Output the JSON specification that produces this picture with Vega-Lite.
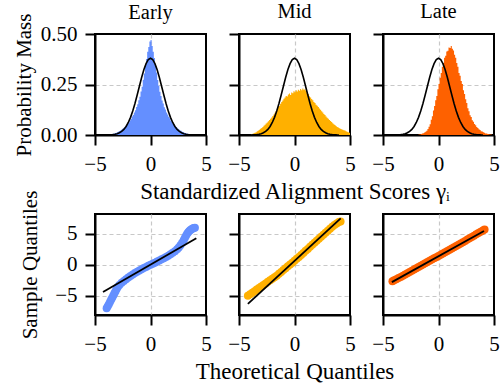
{
  "$schema": "https://vega.github.io/schema/vega-lite/v6.json",
  "autosize": {"type": "pad"},
  "padding": {"left": 12, "top": 0, "right": 0, "bottom": 0},
  "config": {
    "font": "Liberation Serif",
    "view": {"stroke": "black", "strokeWidth": 2},
    "axis": {
      "domainColor": "black", "domainWidth": 2,
      "tickColor": "black", "tickWidth": 2, "tickSize": 10,
      "labelFontSize": 21, "labelColor": "black", "labelPadding": 8,
      "labelFlush": false, "labelOverlap": false,
      "titleFontSize": 21, "titleFontWeight": "normal", "titleColor": "black", "titlePadding": 6,
      "gridColor": "#c8c8c8", "gridDash": [4, 3], "gridWidth": 1.2
    },
    "axisX": {"titleFontSize": 23, "gridOpacity": {"condition": {"test": "abs(datum.value) > 4.9", "value": 0}, "value": 1}},
    "title": {"fontSize": 20.5, "fontWeight": "normal", "color": "black", "offset": 11}
  },
  "datasets": {
    "pdf": [
      {"x": -4.0, "y": 0.0003}, {"x": -3.8, "y": 0.0005}, {"x": -3.6, "y": 0.0011}, {"x": -3.4, "y": 0.002}, {"x": -3.2, "y": 0.0037},
      {"x": -3.0, "y": 0.0064}, {"x": -2.8, "y": 0.0109}, {"x": -2.6, "y": 0.0177}, {"x": -2.4, "y": 0.0279}, {"x": -2.2, "y": 0.0423},
      {"x": -2.0, "y": 0.0619}, {"x": -1.8, "y": 0.0874}, {"x": -1.6, "y": 0.119}, {"x": -1.4, "y": 0.1562}, {"x": -1.2, "y": 0.1978},
      {"x": -1.0, "y": 0.2415}, {"x": -0.8, "y": 0.2843}, {"x": -0.6, "y": 0.3227}, {"x": -0.4, "y": 0.3534}, {"x": -0.2, "y": 0.3732},
      {"x": 0.0, "y": 0.38},
      {"x": 0.2, "y": 0.3732}, {"x": 0.4, "y": 0.3534}, {"x": 0.6, "y": 0.3227}, {"x": 0.8, "y": 0.2843}, {"x": 1.0, "y": 0.2415},
      {"x": 1.2, "y": 0.1978}, {"x": 1.4, "y": 0.1562}, {"x": 1.6, "y": 0.119}, {"x": 1.8, "y": 0.0874}, {"x": 2.0, "y": 0.0619},
      {"x": 2.2, "y": 0.0423}, {"x": 2.4, "y": 0.0279}, {"x": 2.6, "y": 0.0177}, {"x": 2.8, "y": 0.0109}, {"x": 3.0, "y": 0.0064},
      {"x": 3.2, "y": 0.0037}, {"x": 3.4, "y": 0.002}, {"x": 3.6, "y": 0.0011}, {"x": 3.8, "y": 0.0005}, {"x": 4.0, "y": 0.0003}
    ],
    "hE": [
      {"x": -3.6, "y": 0.004}, {"x": -3.5, "y": 0.005}, {"x": -3.4, "y": 0.006}, {"x": -3.3, "y": 0.008}, {"x": -3.2, "y": 0.010},
      {"x": -3.1, "y": 0.011}, {"x": -3.0, "y": 0.015}, {"x": -2.9, "y": 0.017}, {"x": -2.8, "y": 0.020}, {"x": -2.7, "y": 0.025},
      {"x": -2.6, "y": 0.028}, {"x": -2.5, "y": 0.033}, {"x": -2.4, "y": 0.037}, {"x": -2.3, "y": 0.044}, {"x": -2.2, "y": 0.049},
      {"x": -2.1, "y": 0.056}, {"x": -2.0, "y": 0.061}, {"x": -1.9, "y": 0.072}, {"x": -1.8, "y": 0.079}, {"x": -1.7, "y": 0.091},
      {"x": -1.6, "y": 0.099}, {"x": -1.5, "y": 0.112}, {"x": -1.4, "y": 0.123}, {"x": -1.3, "y": 0.138}, {"x": -1.2, "y": 0.152},
      {"x": -1.1, "y": 0.172}, {"x": -1.0, "y": 0.189}, {"x": -0.9, "y": 0.215}, {"x": -0.8, "y": 0.239}, {"x": -0.7, "y": 0.273},
      {"x": -0.6, "y": 0.305}, {"x": -0.5, "y": 0.343}, {"x": -0.4, "y": 0.376}, {"x": -0.3, "y": 0.412}, {"x": -0.2, "y": 0.436},
      {"x": -0.1, "y": 0.463}, {"x": 0.0, "y": 0.470}, {"x": 0.1, "y": 0.441}, {"x": 0.2, "y": 0.412}, {"x": 0.3, "y": 0.381},
      {"x": 0.4, "y": 0.343}, {"x": 0.5, "y": 0.309}, {"x": 0.6, "y": 0.272}, {"x": 0.7, "y": 0.244}, {"x": 0.8, "y": 0.214},
      {"x": 0.9, "y": 0.193}, {"x": 1.0, "y": 0.171}, {"x": 1.1, "y": 0.156}, {"x": 1.2, "y": 0.137}, {"x": 1.3, "y": 0.126},
      {"x": 1.4, "y": 0.111}, {"x": 1.5, "y": 0.102}, {"x": 1.6, "y": 0.090}, {"x": 1.7, "y": 0.083}, {"x": 1.8, "y": 0.071},
      {"x": 1.9, "y": 0.065}, {"x": 2.0, "y": 0.055}, {"x": 2.1, "y": 0.051}, {"x": 2.2, "y": 0.043}, {"x": 2.3, "y": 0.039},
      {"x": 2.4, "y": 0.032}, {"x": 2.5, "y": 0.029}, {"x": 2.6, "y": 0.023}, {"x": 2.7, "y": 0.021}, {"x": 2.8, "y": 0.016},
      {"x": 2.9, "y": 0.015}, {"x": 3.0, "y": 0.011}, {"x": 3.1, "y": 0.010}, {"x": 3.2, "y": 0.008}, {"x": 3.3, "y": 0.006},
      {"x": 3.4, "y": 0.005}, {"x": 3.5, "y": 0.003}, {"x": 3.6, "y": 0.0}
    ],
    "hM": [
      {"x": -3.9, "y": 0.004}, {"x": -3.8, "y": 0.006}, {"x": -3.7, "y": 0.009}, {"x": -3.6, "y": 0.011}, {"x": -3.5, "y": 0.014},
      {"x": -3.4, "y": 0.018}, {"x": -3.3, "y": 0.022}, {"x": -3.2, "y": 0.026}, {"x": -3.1, "y": 0.031}, {"x": -3.0, "y": 0.035},
      {"x": -2.9, "y": 0.040}, {"x": -2.8, "y": 0.046}, {"x": -2.7, "y": 0.051}, {"x": -2.6, "y": 0.057}, {"x": -2.5, "y": 0.062},
      {"x": -2.4, "y": 0.068}, {"x": -2.3, "y": 0.074}, {"x": -2.2, "y": 0.080}, {"x": -2.1, "y": 0.087}, {"x": -2.0, "y": 0.094},
      {"x": -1.9, "y": 0.101}, {"x": -1.8, "y": 0.110}, {"x": -1.7, "y": 0.119}, {"x": -1.6, "y": 0.128}, {"x": -1.5, "y": 0.139},
      {"x": -1.4, "y": 0.143}, {"x": -1.3, "y": 0.155}, {"x": -1.2, "y": 0.163}, {"x": -1.1, "y": 0.171}, {"x": -1.0, "y": 0.180},
      {"x": -0.9, "y": 0.186}, {"x": -0.8, "y": 0.193}, {"x": -0.7, "y": 0.190}, {"x": -0.6, "y": 0.201}, {"x": -0.5, "y": 0.205},
      {"x": -0.4, "y": 0.198}, {"x": -0.3, "y": 0.211}, {"x": -0.2, "y": 0.207}, {"x": -0.1, "y": 0.216}, {"x": 0.0, "y": 0.212},
      {"x": 0.1, "y": 0.222}, {"x": 0.2, "y": 0.215}, {"x": 0.3, "y": 0.224}, {"x": 0.4, "y": 0.219}, {"x": 0.5, "y": 0.228},
      {"x": 0.6, "y": 0.221}, {"x": 0.7, "y": 0.230}, {"x": 0.8, "y": 0.224}, {"x": 0.9, "y": 0.226}, {"x": 1.0, "y": 0.218},
      {"x": 1.1, "y": 0.209}, {"x": 1.2, "y": 0.203}, {"x": 1.3, "y": 0.192}, {"x": 1.4, "y": 0.186}, {"x": 1.5, "y": 0.178},
      {"x": 1.6, "y": 0.172}, {"x": 1.7, "y": 0.163}, {"x": 1.8, "y": 0.158}, {"x": 1.9, "y": 0.150}, {"x": 2.0, "y": 0.145},
      {"x": 2.1, "y": 0.138}, {"x": 2.2, "y": 0.131}, {"x": 2.3, "y": 0.125}, {"x": 2.4, "y": 0.117}, {"x": 2.5, "y": 0.112},
      {"x": 2.6, "y": 0.104}, {"x": 2.7, "y": 0.099}, {"x": 2.8, "y": 0.092}, {"x": 2.9, "y": 0.086}, {"x": 3.0, "y": 0.080},
      {"x": 3.1, "y": 0.074}, {"x": 3.2, "y": 0.069}, {"x": 3.3, "y": 0.064}, {"x": 3.4, "y": 0.058}, {"x": 3.5, "y": 0.053},
      {"x": 3.6, "y": 0.049}, {"x": 3.7, "y": 0.044}, {"x": 3.8, "y": 0.040}, {"x": 3.9, "y": 0.037}, {"x": 4.0, "y": 0.034},
      {"x": 4.1, "y": 0.031}, {"x": 4.2, "y": 0.028}, {"x": 4.3, "y": 0.026}, {"x": 4.4, "y": 0.024}, {"x": 4.5, "y": 0.022},
      {"x": 4.6, "y": 0.019}, {"x": 4.7, "y": 0.016}, {"x": 4.8, "y": 0.013}, {"x": 4.9, "y": 0.011}, {"x": 5.0, "y": 0.0}
    ],
    "hL": [
      {"x": -1.8, "y": 0.002}, {"x": -1.7, "y": 0.003}, {"x": -1.6, "y": 0.005}, {"x": -1.5, "y": 0.007}, {"x": -1.4, "y": 0.009},
      {"x": -1.3, "y": 0.012}, {"x": -1.2, "y": 0.016}, {"x": -1.1, "y": 0.021}, {"x": -1.0, "y": 0.030}, {"x": -0.9, "y": 0.041},
      {"x": -0.8, "y": 0.053}, {"x": -0.7, "y": 0.076}, {"x": -0.6, "y": 0.093}, {"x": -0.5, "y": 0.121}, {"x": -0.4, "y": 0.143},
      {"x": -0.3, "y": 0.172}, {"x": -0.2, "y": 0.193}, {"x": -0.1, "y": 0.227}, {"x": 0.0, "y": 0.253}, {"x": 0.1, "y": 0.283},
      {"x": 0.2, "y": 0.307}, {"x": 0.3, "y": 0.338}, {"x": 0.4, "y": 0.357}, {"x": 0.5, "y": 0.383}, {"x": 0.6, "y": 0.392},
      {"x": 0.7, "y": 0.413}, {"x": 0.8, "y": 0.417}, {"x": 0.9, "y": 0.433}, {"x": 1.0, "y": 0.431}, {"x": 1.1, "y": 0.440},
      {"x": 1.2, "y": 0.427}, {"x": 1.3, "y": 0.418}, {"x": 1.4, "y": 0.397}, {"x": 1.5, "y": 0.383}, {"x": 1.6, "y": 0.357},
      {"x": 1.7, "y": 0.338}, {"x": 1.8, "y": 0.307}, {"x": 1.9, "y": 0.293}, {"x": 2.0, "y": 0.267}, {"x": 2.1, "y": 0.252},
      {"x": 2.2, "y": 0.222}, {"x": 2.3, "y": 0.203}, {"x": 2.4, "y": 0.177}, {"x": 2.5, "y": 0.158}, {"x": 2.6, "y": 0.132},
      {"x": 2.7, "y": 0.117}, {"x": 2.8, "y": 0.098}, {"x": 2.9, "y": 0.089}, {"x": 3.0, "y": 0.073}, {"x": 3.1, "y": 0.066},
      {"x": 3.2, "y": 0.054}, {"x": 3.3, "y": 0.048}, {"x": 3.4, "y": 0.039}, {"x": 3.5, "y": 0.035}, {"x": 3.6, "y": 0.028},
      {"x": 3.7, "y": 0.025}, {"x": 3.8, "y": 0.019}, {"x": 3.9, "y": 0.017}, {"x": 4.0, "y": 0.013}, {"x": 4.1, "y": 0.011},
      {"x": 4.2, "y": 0.008}, {"x": 4.3, "y": 0.007}, {"x": 4.4, "y": 0.005}, {"x": 4.5, "y": 0.004}, {"x": 4.6, "y": 0.003},
      {"x": 4.7, "y": 0.002}, {"x": 4.8, "y": 0.0}
    ],
    "qE": [
      {"x": -3.95, "y": -7.0}, {"x": -3.85, "y": -6.7}, {"x": -3.75, "y": -6.35}, {"x": -3.65, "y": -6.0}, {"x": -3.55, "y": -5.65},
      {"x": -3.45, "y": -5.3}, {"x": -3.35, "y": -4.95}, {"x": -3.25, "y": -4.6}, {"x": -3.15, "y": -4.25}, {"x": -3.05, "y": -3.9},
      {"x": -2.95, "y": -3.6}, {"x": -2.8, "y": -3.25}, {"x": -2.6, "y": -2.9}, {"x": -2.4, "y": -2.6}, {"x": -2.2, "y": -2.32},
      {"x": -2.0, "y": -2.05}, {"x": -1.8, "y": -1.8}, {"x": -1.6, "y": -1.55}, {"x": -1.4, "y": -1.33}, {"x": -1.2, "y": -1.12},
      {"x": -1.0, "y": -0.92}, {"x": -0.8, "y": -0.72}, {"x": -0.6, "y": -0.53}, {"x": -0.4, "y": -0.35}, {"x": -0.2, "y": -0.17},
      {"x": 0.0, "y": 0.0}, {"x": 0.2, "y": 0.17}, {"x": 0.4, "y": 0.34}, {"x": 0.6, "y": 0.52}, {"x": 0.8, "y": 0.7},
      {"x": 1.0, "y": 0.88}, {"x": 1.2, "y": 1.07}, {"x": 1.4, "y": 1.27}, {"x": 1.6, "y": 1.48}, {"x": 1.8, "y": 1.7},
      {"x": 2.0, "y": 1.95}, {"x": 2.2, "y": 2.2}, {"x": 2.4, "y": 2.5}, {"x": 2.55, "y": 2.8}, {"x": 2.7, "y": 3.15},
      {"x": 2.85, "y": 3.55}, {"x": 3.0, "y": 4.0}, {"x": 3.1, "y": 4.35}, {"x": 3.2, "y": 4.7}, {"x": 3.3, "y": 5.0},
      {"x": 3.4, "y": 5.25}, {"x": 3.5, "y": 5.45}, {"x": 3.6, "y": 5.6}, {"x": 3.7, "y": 5.75}, {"x": 3.8, "y": 5.85},
      {"x": 3.9, "y": 5.95}, {"x": 4.0, "y": 6.0}
    ],
    "qM": [
      {"x": -4.2, "y": -5.0}, {"x": -4.0, "y": -4.75}, {"x": -3.8, "y": -4.5}, {"x": -3.6, "y": -4.25}, {"x": -3.4, "y": -4.0},
      {"x": -3.2, "y": -3.75}, {"x": -3.0, "y": -3.5}, {"x": -2.8, "y": -3.25}, {"x": -2.6, "y": -3.0}, {"x": -2.4, "y": -2.75},
      {"x": -2.2, "y": -2.5}, {"x": -2.0, "y": -2.25}, {"x": -1.8, "y": -2.0}, {"x": -1.6, "y": -1.75}, {"x": -1.4, "y": -1.45},
      {"x": -1.2, "y": -1.15}, {"x": -1.0, "y": -0.85}, {"x": -0.8, "y": -0.55}, {"x": -0.6, "y": -0.25}, {"x": -0.4, "y": 0.05},
      {"x": -0.2, "y": 0.35}, {"x": 0.0, "y": 0.65}, {"x": 0.2, "y": 0.97}, {"x": 0.4, "y": 1.28}, {"x": 0.6, "y": 1.6},
      {"x": 0.8, "y": 1.92}, {"x": 1.0, "y": 2.25}, {"x": 1.2, "y": 2.57}, {"x": 1.4, "y": 2.9}, {"x": 1.6, "y": 3.22},
      {"x": 1.8, "y": 3.55}, {"x": 2.0, "y": 3.87}, {"x": 2.2, "y": 4.2}, {"x": 2.4, "y": 4.52}, {"x": 2.6, "y": 4.85},
      {"x": 2.8, "y": 5.17}, {"x": 3.0, "y": 5.5}, {"x": 3.2, "y": 5.82}, {"x": 3.4, "y": 6.13}, {"x": 3.6, "y": 6.42},
      {"x": 3.8, "y": 6.68}, {"x": 4.0, "y": 6.9}, {"x": 4.15, "y": 7.0}
    ],
    "qL": [
      {"x": -4.15, "y": -2.65}, {"x": -4.0, "y": -2.5}, {"x": -3.8, "y": -2.32}, {"x": -3.6, "y": -2.14}, {"x": -3.4, "y": -1.95},
      {"x": -3.2, "y": -1.76}, {"x": -3.0, "y": -1.56}, {"x": -2.8, "y": -1.36}, {"x": -2.6, "y": -1.16}, {"x": -2.4, "y": -0.96},
      {"x": -2.2, "y": -0.76}, {"x": -2.0, "y": -0.56}, {"x": -1.8, "y": -0.36}, {"x": -1.6, "y": -0.16}, {"x": -1.4, "y": 0.04},
      {"x": -1.2, "y": 0.24}, {"x": -1.0, "y": 0.44}, {"x": -0.8, "y": 0.64}, {"x": -0.6, "y": 0.84}, {"x": -0.4, "y": 1.04},
      {"x": -0.2, "y": 1.24}, {"x": 0.0, "y": 1.44}, {"x": 0.2, "y": 1.64}, {"x": 0.4, "y": 1.84}, {"x": 0.6, "y": 2.04},
      {"x": 0.8, "y": 2.24}, {"x": 1.0, "y": 2.44}, {"x": 1.2, "y": 2.64}, {"x": 1.4, "y": 2.84}, {"x": 1.6, "y": 3.04},
      {"x": 1.8, "y": 3.25}, {"x": 2.0, "y": 3.45}, {"x": 2.2, "y": 3.66}, {"x": 2.4, "y": 3.86}, {"x": 2.6, "y": 4.07},
      {"x": 2.8, "y": 4.28}, {"x": 3.0, "y": 4.49}, {"x": 3.2, "y": 4.7}, {"x": 3.4, "y": 4.92}, {"x": 3.6, "y": 5.13},
      {"x": 3.8, "y": 5.35}, {"x": 4.0, "y": 5.55}, {"x": 4.15, "y": 5.68}
    ],
    "lE": [{"x": -4.28, "y": -4.4}, {"x": 4.13, "y": 4.3}],
    "lM": [{"x": -4.2, "y": -6.3}, {"x": 4.16, "y": 7.5}],
    "lL": [{"x": -4.2, "y": -2.8}, {"x": 4.1, "y": 5.45}]
  },
  "spacing": {"row": 79, "column": 33},
  "bounds": "flush",
  "columns": 3,
  "concat": [
    {
      "width": 111, "height": 101, "title": {"text": "Early", "offset": -10},
      "layer": [
        {"data": {"name": "hE"}, "mark": {"type": "area", "interpolate": "step-after", "color": "#648FFF", "clip": true},
         "encoding": {
           "x": {"field": "x", "type": "quantitative", "scale": {"domain": [-5, 5], "nice": false, "zero": false}, "axis": {"values": [-5, 0, 5], "title": null}},
           "y": {"field": "y", "type": "quantitative", "scale": {"domain": [0, 0.5], "nice": false}, "axis": {"values": [0, 0.25, 0.5], "format": ".2f", "title": "Probability Mass", "titlePadding": 6, "gridOpacity": {"condition": {"test": "datum.value != 0.25", "value": 0}, "value": 1}}}}},
        {"data": {"name": "pdf"}, "mark": {"type": "line", "color": "black", "strokeWidth": 1.6, "clip": true},
         "encoding": {"x": {"field": "x", "type": "quantitative"}, "y": {"field": "y", "type": "quantitative"}}}
      ]
    },
    {
      "width": 111, "height": 101, "title": {"text": "Mid"},
      "layer": [
        {"data": {"name": "hM"}, "mark": {"type": "area", "interpolate": "step-after", "color": "#FFB000", "clip": true},
         "encoding": {
           "x": {"field": "x", "type": "quantitative", "scale": {"domain": [-5, 5], "nice": false, "zero": false}, "axis": {"values": [-5, 0, 5], "title": "Standardized Alignment Scores γᵢ"}},
           "y": {"field": "y", "type": "quantitative", "scale": {"domain": [0, 0.5], "nice": false}, "axis": {"values": [0, 0.25, 0.5], "labels": false, "title": null, "gridOpacity": {"condition": {"test": "datum.value != 0.25", "value": 0}, "value": 1}}}}},
        {"data": {"name": "pdf"}, "mark": {"type": "line", "color": "black", "strokeWidth": 1.6, "clip": true},
         "encoding": {"x": {"field": "x", "type": "quantitative"}, "y": {"field": "y", "type": "quantitative"}}}
      ]
    },
    {
      "width": 111, "height": 101, "title": {"text": "Late"},
      "layer": [
        {"data": {"name": "hL"}, "mark": {"type": "area", "interpolate": "step-after", "color": "#FE6100", "clip": true},
         "encoding": {
           "x": {"field": "x", "type": "quantitative", "scale": {"domain": [-5, 5], "nice": false, "zero": false}, "axis": {"values": [-5, 0, 5], "title": null}},
           "y": {"field": "y", "type": "quantitative", "scale": {"domain": [0, 0.5], "nice": false}, "axis": {"values": [0, 0.25, 0.5], "labels": false, "title": null, "gridOpacity": {"condition": {"test": "datum.value != 0.25", "value": 0}, "value": 1}}}}},
        {"data": {"name": "pdf"}, "mark": {"type": "line", "color": "black", "strokeWidth": 1.6, "clip": true},
         "encoding": {"x": {"field": "x", "type": "quantitative"}, "y": {"field": "y", "type": "quantitative"}}}
      ]
    },
    {
      "width": 111, "height": 101,
      "layer": [
        {"data": {"name": "qE"}, "mark": {"type": "circle", "color": "#648FFF", "size": 64, "opacity": 1, "clip": true},
         "encoding": {
           "x": {"field": "x", "type": "quantitative", "scale": {"domain": [-5, 5], "nice": false, "zero": false}, "axis": {"values": [-5, 0, 5], "title": null}},
           "y": {"field": "y", "type": "quantitative", "scale": {"domain": [-8.1, 8.2], "nice": false, "zero": false}, "axis": {"values": [-5, 0, 5], "title": "Sample Quantiles", "titlePadding": 14}}}},
        {"data": {"name": "lE"}, "mark": {"type": "line", "color": "black", "strokeWidth": 1.8},
         "encoding": {"x": {"field": "x", "type": "quantitative"}, "y": {"field": "y", "type": "quantitative"}}}
      ]
    },
    {
      "width": 111, "height": 101,
      "layer": [
        {"data": {"name": "qM"}, "mark": {"type": "circle", "color": "#FFB000", "size": 64, "opacity": 1, "clip": true},
         "encoding": {
           "x": {"field": "x", "type": "quantitative", "scale": {"domain": [-5, 5], "nice": false, "zero": false}, "axis": {"values": [-5, 0, 5], "title": "Theoretical Quantiles"}},
           "y": {"field": "y", "type": "quantitative", "scale": {"domain": [-8.1, 8.2], "nice": false, "zero": false}, "axis": {"values": [-5, 0, 5], "labels": false, "title": null}}}},
        {"data": {"name": "lM"}, "mark": {"type": "line", "color": "black", "strokeWidth": 1.8},
         "encoding": {"x": {"field": "x", "type": "quantitative"}, "y": {"field": "y", "type": "quantitative"}}}
      ]
    },
    {
      "width": 111, "height": 101,
      "layer": [
        {"data": {"name": "qL"}, "mark": {"type": "circle", "color": "#FE6100", "size": 64, "opacity": 1, "clip": true},
         "encoding": {
           "x": {"field": "x", "type": "quantitative", "scale": {"domain": [-5, 5], "nice": false, "zero": false}, "axis": {"values": [-5, 0, 5], "title": null}},
           "y": {"field": "y", "type": "quantitative", "scale": {"domain": [-8.1, 8.2], "nice": false, "zero": false}, "axis": {"values": [-5, 0, 5], "labels": false, "title": null}}}},
        {"data": {"name": "lL"}, "mark": {"type": "line", "color": "black", "strokeWidth": 1.8},
         "encoding": {"x": {"field": "x", "type": "quantitative"}, "y": {"field": "y", "type": "quantitative"}}}
      ]
    }
  ]
}
